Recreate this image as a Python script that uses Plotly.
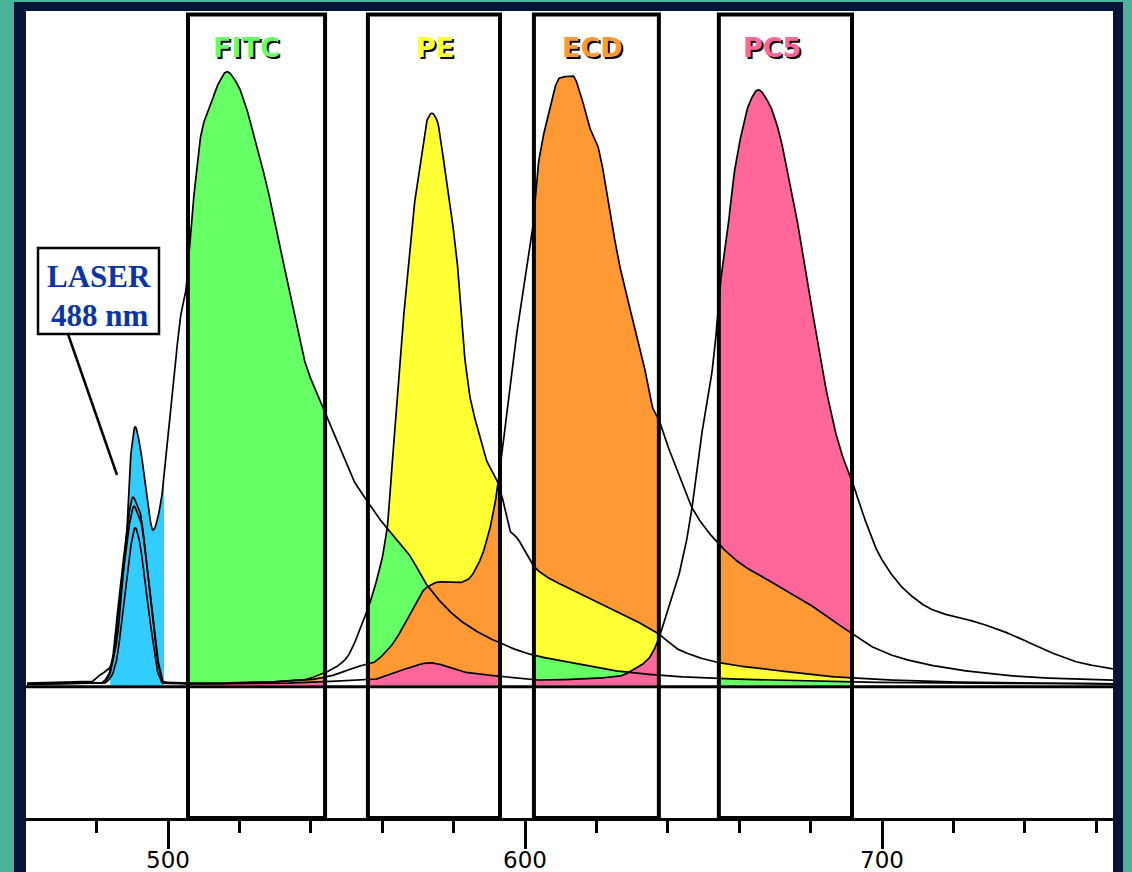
import numpy as np
import plotly.graph_objects as go

# ---------------- data ----------------
dyes = ["FITC", "PE", "ECD", "PC5"]

wl_fitc = [460.5, 478.2, 481.0, 483.8, 485.7, 487.1, 488.5, 489.4, 490.8, 492.2,
           494.1, 495.8, 497.8, 499.7, 501.4, 503.4, 505.0, 506.2, 507.0, 509.0,
           509.8, 511.8, 513.7, 516.5, 519.3, 522.4, 524.9, 527.7, 530.5, 533.3,
           536.1, 538.9, 541.7, 544.0, 545.4, 549.0, 551.8, 554.6, 558.5, 562.2,
           567.8, 572.5, 581.8, 592.2, 602.2, 613.4, 627.5, 649.0, 677.0, 719.0,
           764.7]
int_fitc = [0.3, 0.5, 1.7, 3.0, 7.5, 16.3, 25.8, 37.0, 43.0, 39.7,
            31.3, 25.8, 29.7, 39.7, 49.2, 61.0, 65.8, 75.2, 80.0, 90.8,
            93.3, 96.3, 99.7, 102.2, 100.3, 95.3, 89.5, 83.3, 75.2, 67.7,
            59.5, 52.8, 48.7, 45.5, 43.3, 38.5, 34.3, 31.7, 28.3, 25.5,
            21.5, 16.7, 10.8, 7.2, 5.0, 3.7, 2.2, 1.2, 0.7, 0.3,
            0.2]

wl_pe = [460.5, 481.0, 483.2, 484.6, 486.0, 487.4, 488.8, 490.2, 491.3, 492.2,
         494.1, 495.8, 497.2, 498.6, 509.0, 537.0, 544.5, 549.6, 554.6, 557.4,
         561.3, 563.0, 565.0, 566.9, 568.6, 570.6, 572.5, 573.9, 575.4, 577.0,
         579.0, 581.0, 582.6, 584.6, 586.6, 589.4, 592.2, 593.8, 595.8, 597.8,
         601.4, 603.4, 613.4, 623.0, 637.0, 643.4, 654.6, 669.5, 688.2, 719.0,
         764.7]
int_pe = [0.2, 0.3, 1.5, 5.0, 13.0, 20.3, 27.5, 31.3, 30.0, 28.7,
          19.7, 10.8, 3.7, 0.5, 0.3, 0.8, 2.2, 4.2, 10.5, 15.3,
          25.7, 38.5, 54.5, 67.2, 78.2, 86.3, 94.0, 95.3, 94.0, 88.3,
          80.0, 70.5, 57.7, 48.0, 43.0, 37.2, 34.0, 30.8, 25.7, 24.5,
          20.7, 19.2, 15.8, 13.0, 8.7, 5.8, 3.7, 2.5, 1.3, 0.5,
          0.2]

wl_ecd = [460.5, 481.5, 483.4, 484.8, 486.2, 487.6, 489.0, 490.5, 491.5, 492.4,
          494.3, 496.0, 497.4, 498.8, 509.0, 537.0, 545.4, 554.6, 556.6, 562.2,
          567.0, 572.5, 576.2, 581.0, 583.8, 587.4, 590.2, 592.2, 593.8, 596.6,
          599.4, 602.0, 603.6, 606.2, 609.8, 613.4, 615.4, 618.2, 620.2, 623.0,
          625.8, 629.4, 633.1, 635.9, 637.5, 638.7, 642.6, 647.1, 654.6, 660.2,
          669.5, 679.0, 691.0, 697.5, 707.0, 725.5, 744.3, 764.7]
int_ecd = [0.2, 0.3, 1.4, 4.8, 12.4, 19.3, 26.1, 29.8, 28.5, 27.2,
           18.7, 10.3, 3.5, 0.5, 0.2, 0.7, 1.5, 3.3, 3.5, 6.3,
           10.8, 16.3, 17.2, 17.0, 17.5, 20.8, 26.2, 32.5, 40.0, 54.0,
           65.3, 75.3, 86.2, 94.2, 101.2, 101.5, 98.8, 92.8, 90.2, 82.0,
           72.0, 62.7, 54.0, 46.0, 44.2, 42.0, 35.8, 29.2, 23.3, 20.3,
           17.0, 13.7, 8.8, 6.3, 4.2, 2.2, 1.2, 0.8]

wl_pc5 = [460.5, 482.0, 484.2, 485.7, 487.1, 488.5, 489.7, 490.8, 492.0, 493.7,
          495.6, 497.2, 498.6, 509.0, 537.0, 548.2, 556.6, 564.1, 573.4, 582.6,
          592.2, 604.2, 621.0, 626.6, 630.3, 634.5, 637.0, 638.7, 642.6, 646.2,
          649.0, 651.8, 653.2, 654.6, 656.6, 658.3, 660.2, 663.0, 665.3, 668.1,
          670.9, 673.4, 676.2, 679.0, 681.8, 684.6, 687.4, 690.2, 691.9, 693.8,
          699.4, 707.0, 714.3, 727.5, 736.7, 746.2, 755.5, 764.7]
int_pc5 = [0.1, 0.3, 1.5, 4.5, 11.0, 17.5, 23.5, 26.2, 24.0, 16.3,
           8.0, 2.0, 0.3, 0.17, 0.33, 0.67, 0.83, 2.2, 3.7, 2.2,
           1.5, 0.83, 1.17, 1.5, 2.5, 4.3, 7.0, 10.0, 17.2, 27.2,
           40.0, 49.8, 56.3, 66.3, 74.8, 84.0, 90.7, 97.2, 99.2, 97.2,
           92.7, 86.0, 77.5, 67.7, 57.7, 48.5, 41.2, 36.0, 33.5, 30.0,
           21.5, 15.5, 12.5, 10.3, 8.3, 5.7, 3.7, 2.7]

# band-pass filter windows (nm)
band_lo = [505.6, 556.0, 602.5, 654.3]
band_hi = [544.0, 593.0, 637.5, 691.6]
laser_band = [483.8, 498.9]
tick_vals = [500, 600, 700]

# ---------------- styling ----------------
COL = {"FITC": "#66FF66", "PE": "#FFFF33", "ECD": "#FF9933", "PC5": "#FF6699"}
BLUE = "#33CCFF"
TEAL = "#4CB39B"
NAVY = "#07143A"

spectra = {
    "FITC": (np.array(wl_fitc), np.array(int_fitc)),
    "PE": (np.array(wl_pe), np.array(int_pe)),
    "ECD": (np.array(wl_ecd), np.array(int_ecd)),
    "PC5": (np.array(wl_pc5), np.array(int_pc5)),
}
for k, (a, b) in spectra.items():
    assert len(a) == len(b), k

# order in which colours are painted inside each filter window
paint_order = {
    "FITC": ["FITC", "PE", "ECD", "PC5"],
    "PE": ["PE", "FITC", "ECD", "PC5"],
    "ECD": ["ECD", "PE", "FITC", "PC5"],
    "PC5": ["PC5", "ECD", "PE", "FITC"],
}

W, H = 1132, 872
L, R, T, B = 26, 1113, 11, 818
XMIN = 500 + (L - 168) / 3.57
XMAX = 500 + (R - 168) / 3.57
YMIN = (685 - B) / 6.0
YMAX = (685 - T) / 6.0


def px_x(px):
    return (px - L) / (R - L)


def px_y(py):
    return (B - py) / (B - T)


def px_nm(px):
    return 500 + (px - 168) / 3.57


def pchip(x, y, xs):
    """Monotone cubic (Fritsch-Carlson) evaluation used only for drawing."""
    x = np.asarray(x, float)
    y = np.asarray(y, float)
    h = np.diff(x)
    d = np.diff(y) / h
    m = np.zeros_like(y)
    m[0], m[-1] = d[0], d[-1]
    for k in range(1, len(x) - 1):
        if d[k - 1] * d[k] <= 0:
            m[k] = 0.0
        else:
            w1 = 2 * h[k] + h[k - 1]
            w2 = h[k] + 2 * h[k - 1]
            m[k] = (w1 + w2) / (w1 / d[k - 1] + w2 / d[k])
    xs = np.clip(np.asarray(xs, float), x[0], x[-1])
    i = np.clip(np.searchsorted(x, xs) - 1, 0, len(x) - 2)
    t = (xs - x[i]) / h[i]
    h00 = 2 * t**3 - 3 * t**2 + 1
    h10 = t**3 - 2 * t**2 + t
    h01 = -2 * t**3 + 3 * t**2
    h11 = t**3 - t**2
    return h00 * y[i] + h10 * h[i] * m[i] + h01 * y[i + 1] + h11 * h[i] * m[i + 1]


def curve(name, xs):
    a, b = spectra[name]
    return pchip(a, b, xs)


fig = go.Figure()

# laser scatter (blue)
xs = np.linspace(laser_band[0], laser_band[1], 200)
env = np.max([curve(d, xs) for d in dyes], axis=0)
fig.add_trace(go.Scatter(x=xs, y=env, mode="lines", fill="tozeroy",
                         fillcolor=BLUE, line=dict(width=0, color=BLUE),
                         hoverinfo="skip"))

# coloured areas inside each filter window
for owner, lo, hi in zip(dyes, band_lo, band_hi):
    xs = np.linspace(lo, hi, 300)
    top = curve(owner, xs)
    for d in paint_order[owner]:
        y = np.minimum(curve(d, xs), top)
        fig.add_trace(go.Scatter(x=xs, y=y, mode="lines", fill="tozeroy",
                                 fillcolor=COL[d], line=dict(width=0, color=COL[d]),
                                 hoverinfo="skip"))

# spectrum outlines
xfine = np.linspace(XMIN + 0.3, XMAX, 1500)
for d in dyes:
    fig.add_trace(go.Scatter(x=xfine, y=curve(d, xfine), mode="lines",
                             line=dict(color="black", width=1.7),
                             hoverinfo="skip", name=d))

shapes = []
# background frame
shapes.append(dict(type="rect", xref="paper", yref="paper", layer="below",
                   x0=px_x(14), x1=px_x(1123), y0=px_y(H + 5), y1=px_y(2),
                   fillcolor=NAVY, line=dict(width=0)))
shapes.append(dict(type="rect", xref="paper", yref="paper", layer="below",
                   x0=0, x1=1, y0=px_y(H + 5), y1=1,
                   fillcolor="white", line=dict(width=0)))
# baseline
shapes.append(dict(type="line", xref="paper", yref="y", x0=0, x1=1,
                   y0=-0.3, y1=-0.3, line=dict(color="black", width=3),
                   layer="above"))
# filter boxes
for lo, hi in zip(band_lo, band_hi):
    shapes.append(dict(type="rect", xref="x", yref="y", x0=lo, x1=hi,
                       y0=YMIN, y1=(685 - 14.5) / 6.0,
                       line=dict(color="black", width=4), layer="above"))
# LASER label box and pointer line
shapes.append(dict(type="rect", xref="paper", yref="paper",
                   x0=px_x(38), x1=px_x(159), y0=px_y(334), y1=px_y(248),
                   fillcolor="white", line=dict(color="black", width=2.5),
                   layer="above"))
shapes.append(dict(type="line", xref="paper", yref="paper",
                   x0=px_x(68), y0=px_y(334), x1=px_x(117), y1=px_y(475),
                   line=dict(color="black", width=2.5), layer="above"))

annotations = []
label_px = {"FITC": 246, "PE": 435, "ECD": 592, "PC5": 772}
for d in dyes:
    annotations.append(dict(
        x=px_nm(label_px[d]), xref="x", y=px_y(48), yref="paper",
        text="<b>%s</b>" % d, showarrow=False, xanchor="center", yanchor="middle",
        font=dict(family="DejaVu Sans", size=27, color=COL[d],
                  shadow="2px 2px 0px #000")))

for txt, cy in (("LASER", 276), ("488 nm", 315)):
    annotations.append(dict(
        x=px_x(99), y=px_y(cy), xref="paper", yref="paper",
        text="<b>%s</b>" % txt, showarrow=False,
        xanchor="center", yanchor="middle",
        font=dict(family="Liberation Serif", size=31, color="#0A35A8")))

fig.update_layout(
    width=W, height=H,
    margin=dict(l=L, r=W - R, t=T, b=H - B, pad=0, autoexpand=False),
    paper_bgcolor=TEAL, plot_bgcolor="white",
    showlegend=False,
    shapes=shapes, annotations=annotations,
    xaxis=dict(range=[XMIN, XMAX], showgrid=False, zeroline=False,
               automargin=False,
               showline=True, linecolor="black", linewidth=3,
               ticks="outside", ticklen=28, tickwidth=3, tickcolor="black",
               tickmode="array", tickvals=tick_vals,
               ticktext=[str(v) for v in tick_vals],
               ticklabelstandoff=-9,
               tickfont=dict(family="DejaVu Sans", size=23, color="black"),
               minor=dict(ticks="outside", ticklen=12, tickwidth=2.5,
                          tickcolor="black", tickmode="linear", tick0=0, dtick=20,
                          showgrid=False),
               fixedrange=True),
    yaxis=dict(range=[YMIN, YMAX], visible=False, fixedrange=True,
               automargin=False),
)

fig.write_html("out.html",
               config={"displayModeBar": False},
               post_script="document.body.style.margin='0';"
                           "document.body.style.padding='0';"
                           "document.body.style.overflow='hidden';")
